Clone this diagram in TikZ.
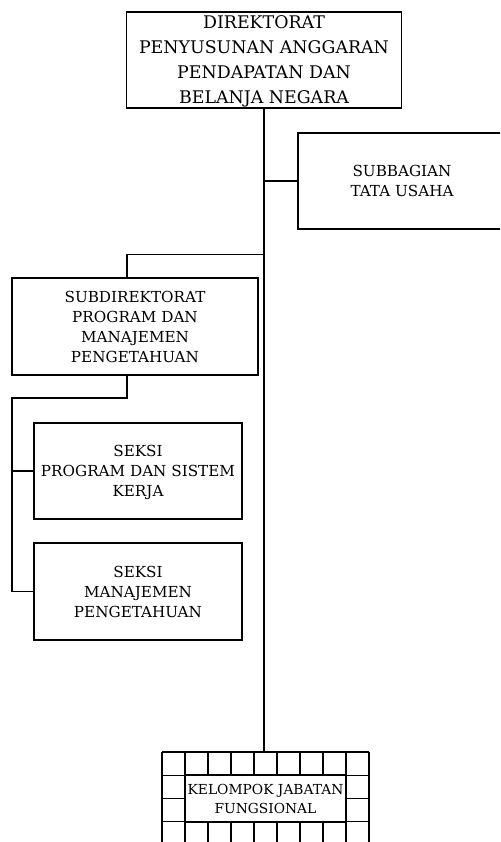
\documentclass[tikz,border=0pt]{standalone}
\usepackage{fontspec}
\setmainfont{DejaVu Serif}
\usepackage{tikz}
\usetikzlibrary{calc}

\tikzset{
  unitbox/.style = {draw, line width=1.1pt, inner sep=0pt, align=center,
    minimum width=208pt, minimum height=96pt, text depth=0pt,
    font=\fontsize{15.2}{20}\selectfont},
  dirbox/.style = {unitbox, minimum width=275pt,
    font=\fontsize{17.4}{25}\selectfont},
  link/.style = {line width=1.1pt},
}

\begin{document}
\begin{tikzpicture}[x=1pt, y=-1pt]
	\useasboundingbox (0,0) rectangle (500,842);
	\clip (0,0) rectangle (500,842);

	\def\cell{23};

	% pimpinan dan sekretariat
	\node[dirbox] (dir) at (264,60) {DIREKTORAT\\PENYUSUNAN ANGGARAN\\PENDAPATAN DAN\\BELANJA NEGARA};
	\node[unitbox] (tu) at (402,181) {SUBBAGIAN\\TATA USAHA};

	% subdirektorat dan seksi
	\node[unitbox, minimum width=246pt, minimum height=97pt] (subdir) at (135,326.5) {SUBDIREKTORAT\\PROGRAM DAN\\MANAJEMEN\\PENGETAHUAN};
	\node[unitbox] (seksia) at (138,471) {SEKSI\\PROGRAM DAN SISTEM\\KERJA};
	\node[unitbox, minimum height=97pt] (seksib) at (138,591.5) {SEKSI\\MANAJEMEN\\PENGETAHUAN};

	% kelompok jabatan fungsional
	\coordinate (grid) at (162,752);
	\begin{scope}[link]
		\foreach \i in {0,...,9}
			\draw ($(grid)+(\i*\cell,0)$) -- ++(0,95);
		\foreach \j in {0,...,3}
			\draw ($(grid)+(0,\j*23.3)$) -- ++(9*\cell,0);
	\end{scope}
	\node[unitbox, fill=white, minimum width=161pt, minimum height=47pt,
		font=\fontsize{13.8}{19}\selectfont] (kjf) at (265.5,798.5) {KELOMPOK JABATAN\\FUNGSIONAL};

	% garis
	\coordinate (cab) at ($(dir.south)+(0,146)$);
	\coordinate (kiri) at (12,398);
	\begin{scope}[link]
		\draw (dir.south) -- (dir.south |- grid);
		\draw (dir.south |- tu.west) -- (tu.west);
		\draw (cab) -| ([xshift=-8pt]subdir.north);
		\draw ([xshift=-8pt]subdir.south) |- (kiri) |- (seksib.west);
		\draw (kiri |- seksia.west) -- (seksia.west);
	\end{scope}
\end{tikzpicture}
\end{document}
